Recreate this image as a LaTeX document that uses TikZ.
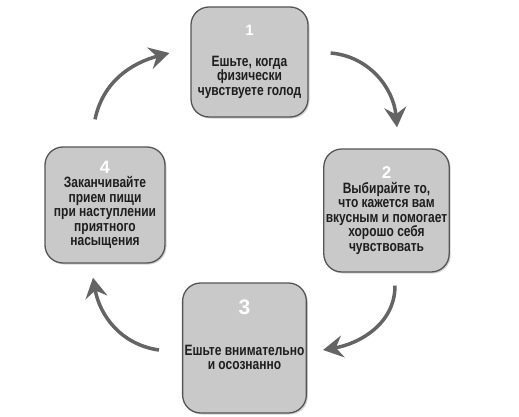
\documentclass[tikz,border=0pt]{standalone}
\usepackage{fontspec}
\setmainfont{Liberation Sans}
\newfontfamily\narrowfont[FakeStretch=0.8]{Liberation Sans}
\usetikzlibrary{arrows.meta,shadows}
\definecolor{boxgray}{HTML}{C9C9C9}
\definecolor{rimgray}{HTML}{555555}
\definecolor{arrowgray}{HTML}{646464}
\definecolor{textgray}{HTML}{1E1E1E}
\tikzset{
  stepbox/.style={rectangle,rounded corners=18pt,fill=boxgray,draw=rimgray,line width=1.3pt,
    minimum width=118pt,minimum height=116pt,align=center,inner sep=2pt,text=textgray,
    font=\narrowfont\bfseries\fontsize{15}{14.5}\selectfont,
    drop shadow={shadow xshift=1.5pt,shadow yshift=-1.5pt,opacity=0.35,fill=gray}},
  cycarrow/.style={draw=arrowgray,line width=3.5pt,-{Stealth[length=20pt,width=22pt,inset=7pt]}}
}
\newcommand{\stepnum}[2]{{\normalfont\bfseries\fontsize{#1}{#1}\selectfont\color{white}#2}}

\begin{document}
\begin{tikzpicture}[x=1pt,y=1pt]
\useasboundingbox (0,0) rectangle (519,416);
% the four steps
\node[stepbox,minimum width=117pt,minimum height=110pt] (b1) at (249.5,354) {\stepnum{15}{1}\\[16pt]Ешьте, когда\\физически\\чувствуете голод};
\node[stepbox,minimum width=123pt,minimum height=123pt] (b2) at (386.5,205.5) {\stepnum{17}{2}\\Выбирайте то,\\что кажется вам\\вкусным и помогает\\хорошо себя\\чувствовать};
\node[stepbox,minimum width=123pt,minimum height=130pt] (b3) at (244.5,68) {\stepnum{21}{3}\\[26pt]Ешьте внимательно\\и осознанно\\[12pt]\mbox{}};
\node[stepbox,minimum width=120pt,minimum height=116pt] (b4) at (105,211) {\stepnum{18}{4}\\Заканчивайте\\прием пищи\\при наступлении\\приятного\\насыщения};
% arrows between steps
\coordinate (t41) at ([shift={(-10pt,27pt)}]b4.north);
\coordinate (h41) at ([shift={(-21pt,9pt)}]b1.west);
\coordinate (t12) at ([shift={(22pt,9pt)}]b1.east);
\coordinate (h12) at ([shift={(10.5pt,21pt)}]b2.north);
\coordinate (t23) at ([shift={(8.5pt,-13pt)}]b2.south);
\coordinate (h23) at ([shift={(16pt,-2pt)}]b3.east);
\coordinate (t34) at ([shift={(-23pt,-2pt)}]b3.west);
\coordinate (h34) at ([shift={(-12pt,-14pt)}]b4.south);
\draw[cycarrow] (t41) to[out=78,in=195] (h41);
\draw[cycarrow] (t12) to[out=-5,in=95] (h12);
\draw[cycarrow] (t23) to[out=-90,in=10] (h23);
\draw[cycarrow] (t34) to[out=172,in=-80] (h34);
\end{tikzpicture}
\end{document}
